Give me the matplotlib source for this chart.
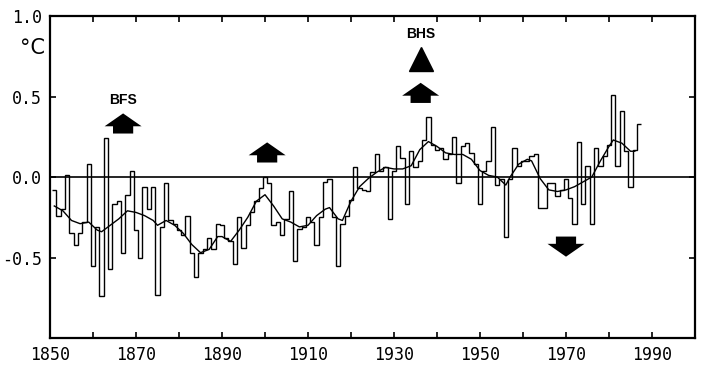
import numpy as np
import matplotlib
matplotlib.use("Agg")
import matplotlib.pyplot as plt

plt.rcParams['axes.unicode_minus'] = False

# annual anomalies (degC), 1851-1987
years = np.arange(1851, 1988)
anomaly = [
    -0.08, -0.24, -0.20, 0.01, -0.35, -0.42, -0.35, -0.28, 0.08, -0.55,   # 1851-1860
    -0.31, -0.74, 0.24, -0.57, -0.17, -0.15, -0.47, -0.11, 0.04, -0.33,   # 1861-1870
    -0.50, -0.06, -0.20, -0.06, -0.73, -0.31, -0.04, -0.27, -0.29, -0.33, # 1871-1880
    -0.36, -0.24, -0.47, -0.62, -0.47, -0.45, -0.38, -0.45, -0.29, -0.30, # 1881-1890
    -0.38, -0.40, -0.54, -0.25, -0.44, -0.30, -0.22, -0.15, -0.07, 0.00,  # 1891-1900
    -0.04, -0.30, -0.28, -0.36, -0.26, -0.09, -0.52, -0.32, -0.31, -0.25, # 1901-1910
    -0.28, -0.42, -0.25, -0.03, -0.01, -0.25, -0.55, -0.29, -0.24, -0.14, # 1911-1920
    0.06, -0.07, -0.08, -0.09, 0.03, 0.14, 0.04, 0.06, -0.26, 0.04,       # 1921-1930
    0.19, 0.12, -0.17, 0.16, 0.06, 0.10, 0.23, 0.37, 0.20, 0.17,          # 1931-1940
    0.18, 0.11, 0.14, 0.25, -0.04, 0.19, 0.21, 0.15, 0.08, -0.17,         # 1941-1950
    0.04, 0.10, 0.31, -0.05, -0.01, -0.37, -0.01, 0.18, 0.07, 0.10,       # 1951-1960
    0.10, 0.13, 0.14, -0.19, -0.19, -0.04, -0.04, -0.12, -0.08, -0.01,    # 1961-1970
    -0.13, -0.29, 0.22, -0.17, 0.07, -0.29, 0.18, 0.07, 0.13, 0.20,       # 1971-1980
    0.51, 0.07, 0.41, 0.16, -0.06, 0.17, 0.33,                            # 1981-1987
]

# smoothed curve
smooth_years = [1851, 1853, 1855, 1857, 1859, 1861, 1862, 1864, 1866, 1868,
                1870, 1872, 1874, 1875, 1877, 1879, 1881, 1883, 1885, 1887,
                1889, 1890, 1892, 1894, 1896, 1898, 1900, 1902, 1904, 1906,
                1908, 1910, 1912, 1914, 1915, 1917, 1918, 1920, 1922, 1924,
                1926, 1928, 1930, 1932, 1934, 1936, 1938, 1940, 1942, 1944,
                1946, 1948, 1950, 1952, 1954, 1956, 1957, 1959, 1961, 1962,
                1964, 1966, 1968, 1970, 1972, 1974, 1976, 1978, 1980, 1981,
                1983, 1985, 1986]
smooth_vals = [-0.18, -0.21, -0.27, -0.29, -0.28, -0.33, -0.34, -0.30, -0.26, -0.21,
               -0.22, -0.24, -0.27, -0.30, -0.27, -0.30, -0.35, -0.42, -0.47, -0.45,
               -0.37, -0.37, -0.40, -0.33, -0.25, -0.15, -0.11, -0.18, -0.26, -0.28,
               -0.31, -0.30, -0.24, -0.20, -0.19, -0.26, -0.27, -0.15, -0.06, -0.01,
               0.03, 0.06, 0.05, 0.05, 0.07, 0.17, 0.22, 0.19, 0.15, 0.14,
               0.14, 0.11, 0.04, 0.01, 0.00, -0.05, 0.00, 0.08, 0.11, 0.10,
               -0.01, -0.08, -0.09, -0.08, -0.06, -0.03, 0.00, 0.10, 0.19, 0.23,
               0.21, 0.16, 0.16]

# event arrows: (year, base, length)
up_arrows = [(1867, 0.27, 0.125), (1900.5, 0.09, 0.125), (1936.2, 0.46, 0.125)]
down_arrows = [(1970, -0.37, 0.125)]
bfs_pos = (1867, 0.48)
bhs_pos = (1936.3, 0.89)
bhs_tri = (1936.3, 0.73)

fig = plt.figure(figsize=(7.09, 3.67), dpi=100)
ax = fig.add_axes([50/709, 1 - 338/367, 645/709, 322/367])

edges = np.append(years - 0.5, years[-1] + 0.5)
ax.stairs(anomaly, edges, baseline=None, color='black', linewidth=1.0)
ax.plot(smooth_years, smooth_vals, color='black', linewidth=1.0)
ax.axhline(0, color='black', linewidth=1.2)

for x, y0, L in up_arrows:
    ax.arrow(x, y0, 0, L, width=4.7, head_width=8.6, head_length=0.08,
             length_includes_head=True, color='black', linewidth=0)
for x, y0, L in down_arrows:
    ax.arrow(x, y0, 0, -L, width=4.7, head_width=8.6, head_length=0.08,
             length_includes_head=True, color='black', linewidth=0)

ax.plot([bhs_tri[0]], [bhs_tri[1]], marker='^', markersize=17, color='black')
ax.text(*bfs_pos, 'BFS', ha='center', va='center', fontsize=10,
        fontweight='bold', family=['Liberation Sans', 'DejaVu Sans'])
ax.text(*bhs_pos, 'BHS', ha='center', va='center', fontsize=10,
        fontweight='bold', family=['Liberation Sans', 'DejaVu Sans'])

ax.set_xlim(1850, 2000)
ax.set_ylim(-1.0, 1.0)
ax.set_xticks(np.arange(1850, 2000, 20))
ax.set_xticks(np.arange(1860, 2000, 10), minor=True)
ax.set_yticks([-0.5, 0.0, 0.5, 1.0])
ax.set_yticklabels(['-0.5', '0.0', '0.5', '1.0'])
ax.tick_params(which='both', direction='in', top=True, right=True,
               length=4, width=1.2, labelsize=12, pad=6)
for lab in ax.get_xticklabels() + ax.get_yticklabels():
    lab.set_family('DejaVu Sans Mono')
for s in ax.spines.values():
    s.set_linewidth(1.6)

fig.text(33/709, 1 - 48/367, '°C', ha='center', va='center', fontsize=15)

fig.savefig('out.png', dpi=100)
